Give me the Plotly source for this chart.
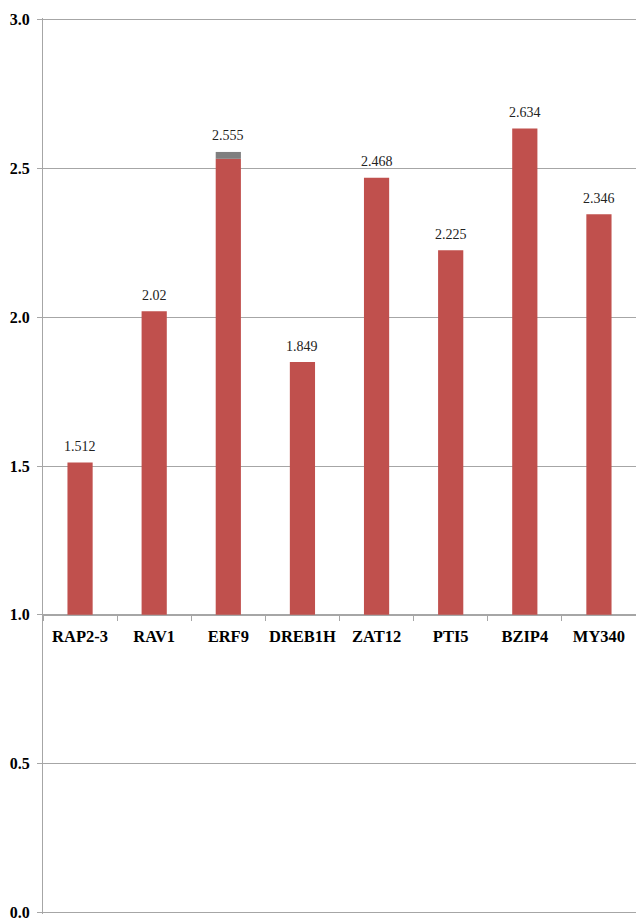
import plotly.graph_objects as go

categories = ["RAP2-3", "RAV1", "ERF9", "DREB1H", "ZAT12", "PTI5", "BZIP4", "MY340"]
values = [1.512, 2.02, 2.555, 1.849, 2.468, 2.225, 2.634, 2.346]
upper_segment = [0, 0, 0.023, 0, 0, 0, 0, 0]
baseline = 1.0
y_ticks = [0.0, 0.5, 1.0, 1.5, 2.0, 2.5, 3.0]
y_range = [-0.005, 3.005]

red_top = [v - s for v, s in zip(values, upper_segment)]

RED = "#C0504D"
GRAY = "#7F7F7F"
GRID = "#A6A6A6"

fig = go.Figure()
fig.add_trace(go.Bar(
    x=categories, y=[t - baseline for t in red_top], base=[baseline] * len(categories),
    marker=dict(color=RED, line=dict(width=0)), width=0.34, hoverinfo="skip",
))
fig.add_trace(go.Bar(
    x=categories, y=upper_segment, base=red_top,
    marker=dict(color=GRAY, line=dict(width=0)), width=0.34, hoverinfo="skip",
))

for c, v in zip(categories, values):
    fig.add_annotation(
        x=c, y=v, text=f"{v:g}", showarrow=False,
        xref="x", yref="y", yanchor="middle", yshift=16,
        font=dict(family="Liberation Serif", size=14, color="#222222"),
    )

fig.update_layout(
    width=636, height=918,
    margin=dict(l=43, r=0, t=18, b=4),
    paper_bgcolor="white", plot_bgcolor="white",
    barmode="overlay", showlegend=False,
    xaxis=dict(
        type="category", anchor="free", position=(baseline - y_range[0]) / (y_range[1] - y_range[0]),
        automargin=False,
        showline=True, linecolor=GRID, linewidth=1, tickangle=0,
        ticks="outside", tickson="boundaries", ticklen=5, tickcolor=GRID,
        ticklabelstandoff=6,
        showgrid=False,
        tickfont=dict(family="Liberation Serif", size=16.5, color="black", weight="bold"),
    ),
    yaxis=dict(
        range=y_range, tickvals=y_ticks, ticktext=[f"{t:.1f}" for t in y_ticks],
        automargin=False, ticklabeloverflow="allow",
        showline=True, linecolor=GRID, linewidth=1,
        ticks="outside", ticklen=5, tickcolor=GRID, ticklabelstandoff=4,
        showgrid=True, gridcolor=GRID, gridwidth=1,
        zeroline=False,
        tickfont=dict(family="Liberation Serif", size=16, color="black", weight="bold"),
    ),
)

fig.write_html("out.html")
